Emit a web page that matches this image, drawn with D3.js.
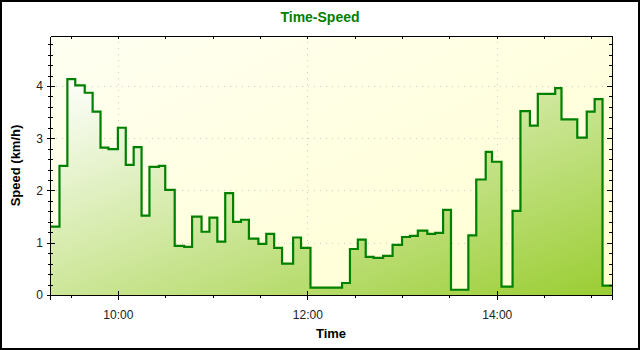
<!DOCTYPE html>
<html><head><meta charset="utf-8">
<script src="https://cdn.jsdelivr.net/npm/d3@7"></script>
<style>
body{margin:0;background:#fff}
svg{display:block}
text{font-family:"Liberation Sans",Arial,sans-serif}
</style>
</head><body>
<svg id="chart" width="640" height="350"></svg>
<script>
// ---- data ----
const times = ["09:17","09:23","09:28","09:33","09:39","09:44","09:49","09:54","10:00","10:05",
  "10:10","10:15","10:20","10:26","10:30","10:36","10:42","10:47","10:53","10:58",
  "11:03","11:08","11:13","11:18","11:23","11:29","11:34","11:39","11:44","11:51",
  "11:56","12:02","12:22","12:27","12:32","12:37","12:42","12:48","12:54","13:00",
  "13:05","13:10","13:16","13:21","13:26","13:31","13:42","13:47","13:53","13:57",
  "14:03","14:10","14:15","14:21","14:26","14:37","14:41","14:51","14:57","15:02",
  "15:07","15:13"];
const speeds = [1.31,2.47,4.13,4.01,3.87,3.51,2.82,2.79,3.20,2.49,
  2.83,1.52,2.45,2.47,2.01,0.94,0.92,1.50,1.21,1.48,
  1.02,1.95,1.40,1.44,1.08,0.98,1.17,0.90,0.60,1.10,
  0.90,0.14,0.23,0.88,1.06,0.73,0.71,0.75,0.96,1.11,
  1.13,1.23,1.17,1.19,1.63,0.10,1.14,2.21,2.74,2.55,
  0.16,1.61,3.52,3.24,3.85,3.96,3.36,3.01,3.51,3.75,
  0.18,0.18];
const xMajorTicks = ["10:00","12:00","14:00"];
const yMajorTicks = [0,1,2,3,4];
const chartTitle = "Time-Speed";
const xTitle = "Time";
const yTitle = "Speed (km/h)";

// ---- setup ----
const parse = d3.timeParse("%H:%M");
const data = times.map((t,i)=>({t:parse(t), v:speeds[i]}));
const svg = d3.select("#chart");
const L=50, R=612, T=36, B=295;

const x = d3.scaleTime().domain(d3.extent(data,d=>d.t)).range([L,R]);
const y = d3.scaleLinear().domain([0, d3.max(speeds)*1.2]).range([B,T]);

const xMajor = xMajorTicks.map(parse);
const xMinor = d3.timeMinute.every(30).range(x.domain()[0], x.domain()[1]);
const yMinor = d3.range(0, y.domain()[1], 0.2).map(v=>+v.toFixed(1));

const defs = svg.append("defs");
const bg = defs.append("linearGradient").attr("id","bg")
  .attr("x1",0).attr("y1",0).attr("x2",1).attr("y2",1);
bg.append("stop").attr("offset",0).attr("stop-color","#fffff2");
bg.append("stop").attr("offset",1).attr("stop-color","#ffffcf");
const fg = defs.append("linearGradient").attr("id","fg")
  .attr("x1",0).attr("y1",0).attr("x2",1).attr("y2",1);
fg.append("stop").attr("offset",0).attr("stop-color","#ffffff");
fg.append("stop").attr("offset",1).attr("stop-color","#9acd32");

// outer border
svg.append("rect").attr("x",1).attr("y",1).attr("width",638).attr("height",348)
  .attr("fill","#fff").attr("stroke","#000").attr("stroke-width",2);

// plot background
svg.append("rect").attr("x",L).attr("y",T).attr("width",R-L).attr("height",B-T)
  .attr("fill","url(#bg)");

// grid
const grid = svg.append("g").attr("stroke","#cccccc").attr("stroke-width",1)
  .attr("stroke-dasharray","1,5").attr("shape-rendering","crispEdges");
grid.selectAll(".gy").data(yMajorTicks.filter(v=>v>0)).join("line")
  .attr("x1",L).attr("x2",R).attr("y1",d=>Math.round(y(d))+0.5).attr("y2",d=>Math.round(y(d))+0.5);
grid.selectAll(".gx").data(xMajor).join("line")
  .attr("y1",T).attr("y2",B).attr("x1",d=>Math.round(x(d))+0.5).attr("x2",d=>Math.round(x(d))+0.5);

// area + line
const area = d3.area().curve(d3.curveStepAfter).x(d=>x(d.t)).y0(y(0)).y1(d=>y(d.v));
const line = d3.line().curve(d3.curveStepAfter).x(d=>x(d.t)).y(d=>y(d.v));
svg.append("path").datum(data).attr("d",area).attr("fill","url(#fg)");
svg.append("path").datum(data).attr("d",line).attr("fill","none")
  .attr("stroke","#008000").attr("stroke-width",2.2).attr("stroke-linejoin","miter");

// axes
function style(g){
  g.selectAll("line").attr("stroke","#000");
  g.selectAll("path").attr("stroke","#000");
  g.selectAll("text").attr("fill","#222").style("font-size","12px")
    .style("font-family",'"Liberation Sans",Arial,sans-serif');
  g.attr("shape-rendering","crispEdges");
}
// bottom
svg.append("g").attr("transform",`translate(0,${B})`)
  .call(d3.axisBottom(x).tickValues(xMajor).tickSize(5).tickPadding(10).tickFormat(d3.timeFormat("%H:%M")))
  .call(style);
svg.append("g").attr("transform",`translate(0,${B})`)
  .call(d3.axisBottom(x).tickValues(xMajor).tickSize(-4).tickFormat(""))
  .call(g=>g.select(".domain").remove()).call(style);
svg.append("g").attr("transform",`translate(0,${B})`)
  .call(d3.axisBottom(x).tickValues(xMinor).tickSize(3).tickFormat(""))
  .call(g=>g.select(".domain").remove()).call(style);
// top
svg.append("g").attr("transform",`translate(0,${T})`)
  .call(d3.axisTop(x).tickValues(xMinor).tickSize(-3).tickSizeOuter(0).tickFormat(""))
  .call(style);
// left
svg.append("g").attr("transform",`translate(${L},0)`)
  .call(d3.axisLeft(y).tickValues(yMajorTicks).tickSize(3).tickSizeOuter(0).tickPadding(4).tickFormat(d3.format("d")))
  .call(style);
svg.append("g").attr("transform",`translate(${L},0)`)
  .call(d3.axisLeft(y).tickValues(yMajorTicks).tickSize(-5).tickFormat(""))
  .call(g=>g.select(".domain").remove()).call(style);
svg.append("g").attr("transform",`translate(${L},0)`)
  .call(d3.axisLeft(y).tickValues(yMinor).tickSize(2).tickFormat(""))
  .call(g=>g.select(".domain").remove()).call(style);
svg.append("g").attr("transform",`translate(${L},0)`)
  .call(d3.axisLeft(y).tickValues(yMinor).tickSize(-3).tickFormat(""))
  .call(g=>g.select(".domain").remove()).call(style);
// right
svg.append("g").attr("transform",`translate(${R},0)`)
  .call(d3.axisRight(y).tickValues(yMinor).tickSize(-3).tickSizeOuter(0).tickFormat(""))
  .call(style);
svg.append("g").attr("transform",`translate(${R},0)`)
  .call(d3.axisRight(y).tickValues(yMajorTicks).tickSize(-5).tickFormat(""))
  .call(g=>g.select(".domain").remove()).call(style);

// titles
svg.append("text").attr("x",320).attr("y",22).attr("text-anchor","middle")
  .attr("fill","#008000").style("font-family",'"Liberation Sans",Arial,sans-serif')
  .style("font-weight","bold").style("font-size","14px").text(chartTitle);
svg.append("text").attr("x",(L+R)/2).attr("y",337.5).attr("text-anchor","middle")
  .attr("fill","#000").style("font-weight","bold").style("font-size","13px").text(xTitle);
svg.append("text").attr("transform",`translate(20,${(T+B)/2}) rotate(-90)`).attr("text-anchor","middle")
  .attr("fill","#000").style("font-weight","bold").style("font-size","13px").text(yTitle);
</script>
</body></html>
